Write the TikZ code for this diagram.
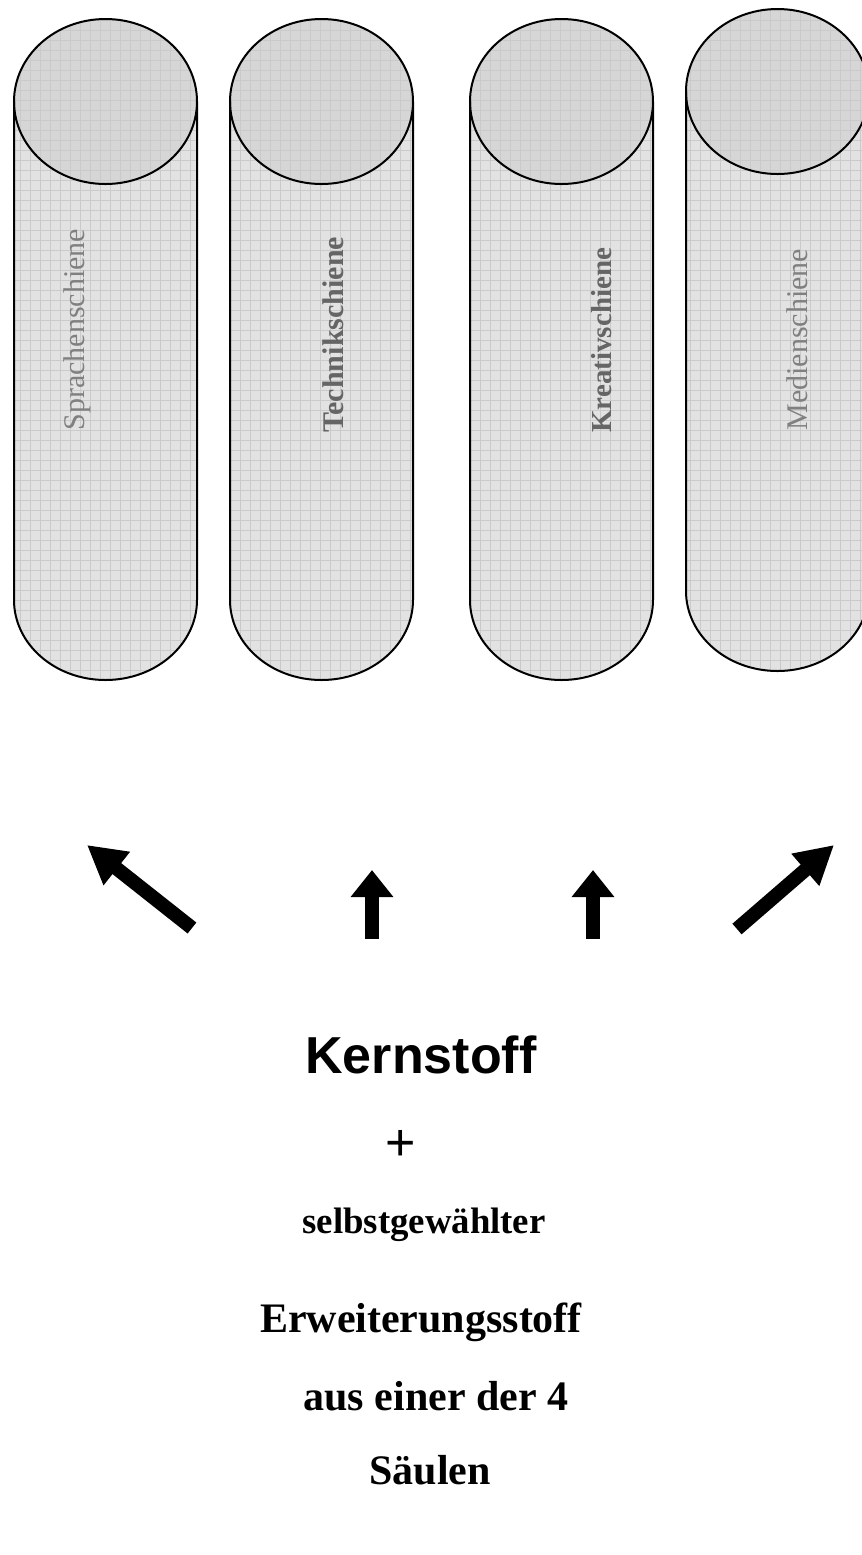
\documentclass[tikz,border=0pt]{standalone}
\usepackage{fontspec}
\setmainfont{Liberation Serif}
\newfontfamily\arialfont{Liberation Sans}
\usetikzlibrary{arrows.meta}

\definecolor{bodygray}{HTML}{E2E2E2}
\definecolor{capgray}{HTML}{D6D6D6}
\definecolor{gridgray}{HTML}{CACACA}
\definecolor{darklabel}{HTML}{656565}
\definecolor{lightlabel}{HTML}{808080}

\tikzset{
  outline/.style={draw=black, line width=1pt},
  gridline/.style={draw=gridgray, line width=0.5pt},
  pillarlabel/.style={rotate=90, anchor=west, inner sep=0pt, font=\fontsize{15}{18}\selectfont},
  blockarrow/.style={draw=black, line width=7pt},
  straighthead/.style={-{Triangle[length=13.5pt,width=20.5pt]}},
  slanthead/.style={-{Triangle[length=19pt,width=20pt]}},
  serifline/.style={inner sep=0pt, font=\bfseries\fontsize{21}{25}\selectfont},
}

% one pillar: #1 left x, #2 right x, #3 centre y of the top ellipse, #4 y where the rounded foot begins
\newcommand\pillarshape[4]{%
  \begin{scope}
    \clip (#1,#3) arc[start angle=180,end angle=360,x radius=91.5,y radius=82.5]
      -- (#2,#4) arc[start angle=0,end angle=180,x radius=91.5,y radius=80] -- cycle;
    \fill[bodygray] (#1-2,#3-90) rectangle (#2+2,#4+90);
    \fill[capgray] ({(#1+#2)/2},#3) ellipse[x radius=91.5,y radius=82.5];
    \foreach \g in {0,10,...,880} \draw[gridline] (\g,#3-90) -- (\g,#4+90);
    \foreach \g in {0,10,...,700} \draw[gridline] (#1-2,\g) -- (#2+2,\g);
  \end{scope}
  \draw[outline] (#1,#3) -- (#1,#4) arc[start angle=180,end angle=0,x radius=91.5,y radius=80] -- (#2,#3);
  \draw[outline] ({(#1+#2)/2},#3) ellipse[x radius=91.5,y radius=82.5];
}

\begin{document}
\begin{tikzpicture}[x=0.5pt,y=-0.5pt]
  \useasboundingbox (0,0) rectangle (862,1555);
  \clip (0,0) rectangle (862,1555);

  % the four pillars
  \pillarshape{14}{197}{101.5}{600}
  \pillarshape{230}{413}{101.5}{600}
  \pillarshape{470}{653}{101.5}{600}
  \pillarshape{686}{869}{91.5}{591}

  % pillar names, reading upwards
  \node[pillarlabel, text=lightlabel] (sprache) at (77,431) {Sprachenschiene};
  \node[pillarlabel, text=darklabel, font=\bfseries\fontsize{15}{18}\selectfont] (technik) at (333,433) {Technikschiene};
  \node[pillarlabel, text=darklabel, font=\bfseries\fontsize{14.5}{18}\selectfont] (kreativ) at (602,433) {Kreativschiene};
  \node[pillarlabel, text=lightlabel] (medien) at (797,431) {Medienschiene};

  % arrow ends
  \coordinate (a1s) at (192,928);  \coordinate (a1e) at (87,845);
  \coordinate (a2s) at (372,939);  \coordinate (a2e) at (372,870);
  \coordinate (a3s) at (593,939);  \coordinate (a3e) at (593,870);
  \coordinate (a4s) at (737,929);  \coordinate (a4e) at (834,845);

  \draw[blockarrow, slanthead] (a1s) -- (a1e);
  \draw[blockarrow, straighthead] (a2s) -- (a2e);
  \draw[blockarrow, straighthead] (a3s) -- (a3e);
  \draw[blockarrow, slanthead] (a4s) -- (a4e);

  % text below the arrows
  \node[inner sep=0pt, font=\arialfont\bfseries\fontsize{26}{30}\selectfont] (kern) at (421,1055) {Kernstoff};
  \node[inner sep=0pt, font=\arialfont\fontsize{26}{30}\selectfont] (plus) at (401,1145) {+};
  \node[inner sep=0pt, font=\bfseries\fontsize{18.4}{22}\selectfont] (selbst) at (424,1225) {selbstgewählter};
  \node[serifline] (erw) at (421,1322) {Erweiterungsstoff};
  \node[serifline] (aus) at (436,1396) {aus einer der 4};
  \node[serifline] (saeulen) at (430,1470) {Säulen};
\end{tikzpicture}
\end{document}
